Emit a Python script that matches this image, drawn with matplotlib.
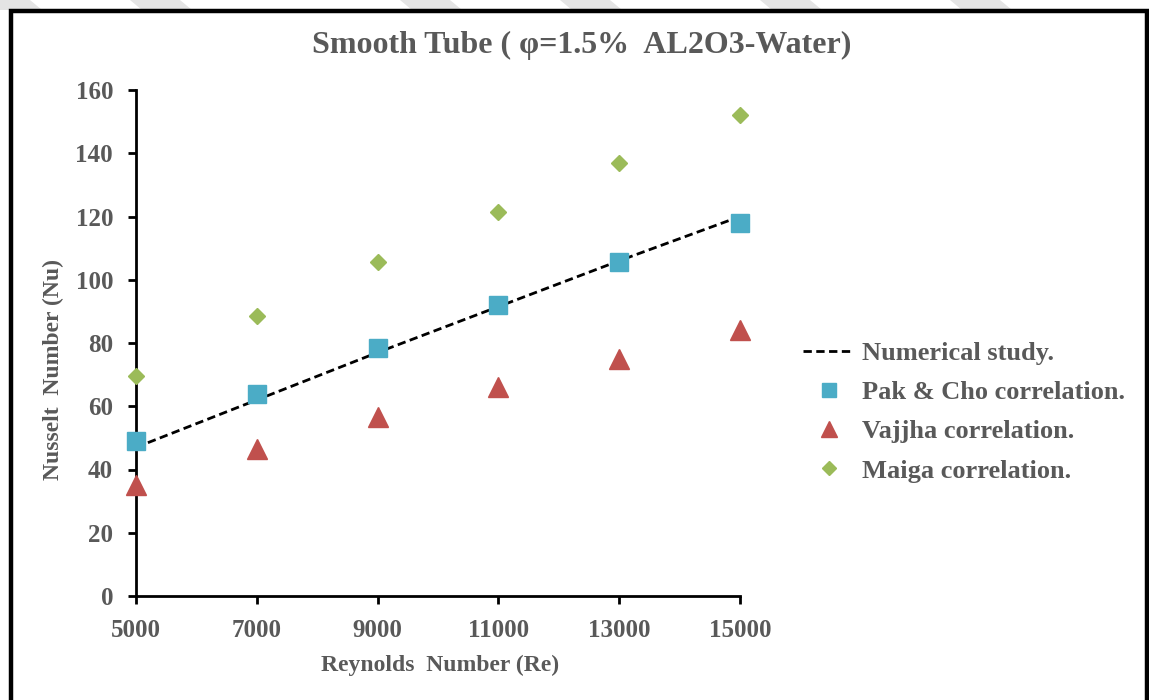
import matplotlib
matplotlib.use("Agg")
import matplotlib.pyplot as plt
from matplotlib.patches import Polygon
from matplotlib.lines import Line2D

re_vals = [5000, 7000, 9000, 11000, 13000, 15000]
numerical = [47, 62, 77, 91.5, 106, 120]
pak_cho = [49, 64, 78.5, 92, 105.5, 118]
vajjha = [35, 46.5, 56.5, 66, 75, 84]
maiga = [69.5, 88.5, 105.5, 121.5, 137, 152]
xticks = [5000, 7000, 9000, 11000, 13000, 15000]
yticks = [0, 20, 40, 60, 80, 100, 120, 140, 160]

TXT = "#595959"
plt.rcParams['font.family'] = ['Liberation Serif', 'DejaVu Serif']
plt.rcParams['font.weight'] = 'bold'

W, H = 1149, 700
fig = plt.figure(figsize=(W / 100, H / 100), dpi=100)
fig.patch.set_facecolor('white')

# watermark stripes at the top
for x0 in [-20, 130, 400, 560, 760, 950]:
    fig.patches.append(Polygon([[x0 / W, 1], [(x0 + 50) / W, 1], [(x0 + 62) / W, 1 - 10 / H], [(x0 + 12) / W, 1 - 10 / H]],
                               closed=True, transform=fig.transFigure, facecolor='#e4e4e4', edgecolor='none', zorder=0))

# outer black border (left, top, right)
fig.add_artist(Line2D([11 / W, 11 / W, 1147 / W, 1147 / W], [0, 1 - 11 / H, 1 - 11 / H, 0],
                      transform=fig.transFigure, color='black', lw=3.2, solid_joinstyle='miter'))

ax = fig.add_axes([136 / W, 104 / H, 604 / W, 506 / H])
ax.set_facecolor('none')

ax.plot(re_vals, numerical, linestyle=(0, (3, 1.6)), color='black', lw=2.0, label='Numerical study.', zorder=2)
ax.plot(re_vals, pak_cho, linestyle='none', marker='s', markersize=13.5, color='#4BACC6',
        label='Pak & Cho correlation.', zorder=3, clip_on=False)
ax.plot(re_vals, vajjha, linestyle='none', marker='^', markersize=14, color='#C0504D',
        label='Vajjha correlation.', zorder=3, clip_on=False)
ax.plot(re_vals, maiga, linestyle='none', marker='D', markersize=8, color='#9BBB59',
        label='Maiga correlation.', zorder=3, clip_on=False)

ax.set_xlim(5000, 15000)
ax.set_ylim(0, 160)
ax.set_xticks(xticks)
ax.set_yticks(yticks)
ax.set_xticklabels([str(v) for v in xticks])
ax.set_yticklabels([str(v) for v in yticks])
for s in ['top', 'right']:
    ax.spines[s].set_visible(False)
for s in ['left', 'bottom']:
    ax.spines[s].set_linewidth(2.0)
    ax.spines[s].set_color('black')
ax.tick_params(axis='both', direction='out', length=6, width=2.0, color='black',
               labelsize=18, labelcolor=TXT, pad=10.5)
for lab in ax.get_xticklabels() + ax.get_yticklabels():
    lab.set_fontweight('bold')

ax.set_xlabel('Reynolds  Number (Re)', fontsize=17, color=TXT, fontweight='bold')
ax.xaxis.set_label_coords(0.503, -0.138)
ax.set_ylabel('Nusselt  Number (Nu)', fontsize=17, color=TXT, fontweight='bold')
ax.yaxis.set_label_coords(-0.137, 0.448)
ax.xaxis.label.set_va('center')
ax.yaxis.label.set_va('center')

fig.text(582 / W, 1 - 45 / H, 'Smooth Tube ( φ=1.5%  AL2O3-Water)', ha='center', va='center',
         fontsize=23, color=TXT, fontweight='bold')

leg = ax.legend(loc='center left', bbox_to_anchor=(803 / W, 1 - 412 / H), bbox_transform=fig.transFigure,
                frameon=False, fontsize=19, labelspacing=0.6, handlelength=1.95, handletextpad=0.3,
                borderpad=0, borderaxespad=0)
for t in leg.get_texts():
    t.set_color(TXT)
    t.set_fontweight('bold')
for h in leg.legend_handles:
    if h.get_marker() == 's':
        h.set_markersize(10)
    elif h.get_marker() == '^':
        h.set_markersize(11)
    elif h.get_marker() == 'D':
        h.set_markersize(7)

fig.savefig('out.png', dpi=100, facecolor='white')
